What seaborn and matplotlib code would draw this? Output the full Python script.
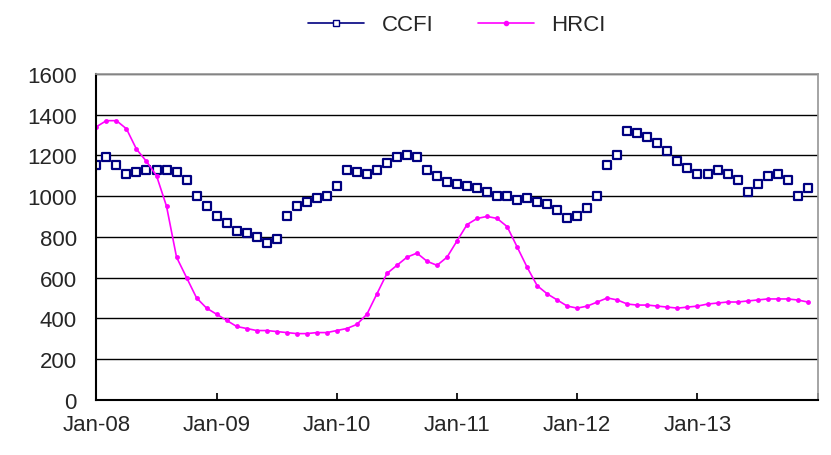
import matplotlib
matplotlib.use("Agg")
import matplotlib.pyplot as plt
import seaborn as sns
import pandas as pd
import numpy as np
from matplotlib.lines import Line2D

sns.set_theme(style="white")
plt.rcParams['font.family'] = ['Liberation Sans', 'DejaVu Sans']

ccfi = [1150,1190,1150,1110,1120,1130,1130,1130,1120,1080,1000,950,
        900,870,830,820,800,770,790,900,950,970,990,1000,
        1050,1130,1120,1110,1130,1160,1190,1200,1190,1130,1100,1070,
        1060,1050,1040,1020,1000,1000,980,990,970,960,930,890,
        900,940,1000,1150,1200,1320,1310,1290,1260,1220,1170,1140,
        1110,1110,1130,1110,1080,1020,1060,1100,1110,1080,1000,1040]
hrci = [1340,1370,1370,1330,1230,1170,1100,950,700,600,500,450,
        420,390,360,350,340,340,335,330,325,325,330,330,
        340,350,370,420,520,620,660,700,720,680,660,700,
        780,860,890,900,890,850,750,650,560,520,490,460,
        450,460,480,500,490,470,465,465,460,455,450,455,
        460,470,475,480,480,485,490,495,495,495,490,480]
tick_labels = ["Jan-08","Jan-09","Jan-10","Jan-11","Jan-12","Jan-13",""]

month = np.arange(len(ccfi))
df = pd.DataFrame({"month": month, "CCFI": ccfi, "HRCI": hrci})

fig = plt.figure(figsize=(8.31, 4.56), dpi=100)
ax = fig.add_axes([0.116, 0.121, 0.868, 0.715])
sns.lineplot(data=df, x="month", y="HRCI", ax=ax, color="#ff00ff", lw=1.2,
             marker="o", markersize=3.5, markeredgewidth=0)
sns.scatterplot(data=df, x="month", y="CCFI", ax=ax, marker="s", s=40,
                facecolor="white", edgecolor="#000080", linewidth=1.6)
ax.set_xlim(0, 72)
ax.set_ylim(0, 1600)
ax.set_yticks(range(0, 1601, 200))
ax.set_xticks(range(0, 73, 12))
ax.set_xticklabels(tick_labels)
ax.yaxis.grid(True, color="black", lw=1)
ax.set_xlabel(""); ax.set_ylabel("")
for s in ["top", "right"]:
    ax.spines[s].set_color("#999999")
for s in ["left", "bottom"]:
    ax.spines[s].set_color("black")
    ax.spines[s].set_linewidth(1.5)
ax.tick_params(axis="x", labelsize=16, length=5, color="black", direction="in", bottom=True, pad=10)
ax.tick_params(axis="y", labelsize=16, left=False, pad=8)
handles = [Line2D([], [], color="#000080", marker="s", markerfacecolor="white", markersize=5, lw=1.2),
           Line2D([], [], color="#ff00ff", marker="o", markersize=3, lw=1.2)]
fig.legend(handles, ["CCFI", "HRCI"], loc="upper center", bbox_to_anchor=(0.55, 1.01),
           ncol=2, frameon=False, fontsize=16, handlelength=2.5, columnspacing=2)
fig.savefig("out.png", dpi=100)
